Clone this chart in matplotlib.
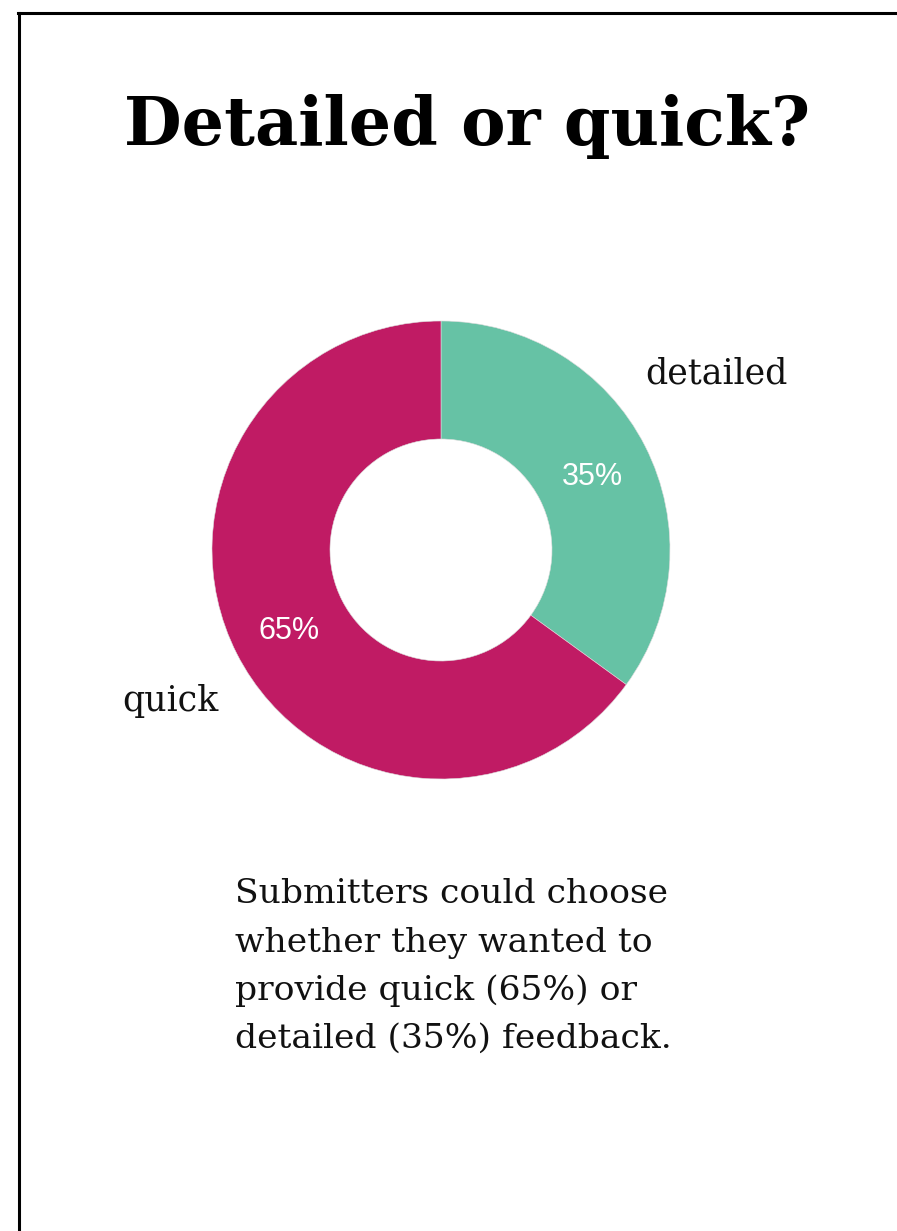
import matplotlib
matplotlib.use("Agg")
import matplotlib.pyplot as plt
from matplotlib.lines import Line2D
import numpy as np

# Data
categories = ["detailed", "quick"]
shares = [35, 65]
pct_labels = ["35%", "65%"]
colors = ["#66c2a5", "#c01b64"]

title = "Detailed or quick?"
caption = ["Submitters could choose",
           "whether they wanted to",
           "provide quick (65%) or",
           "detailed (35%) feedback."]

W, H = 897, 1231
fig = plt.figure(figsize=(W / 100, H / 100), dpi=100)
fig.patch.set_facecolor("white")
ax = fig.add_axes([0, 0, 1, 1])

cx, cy = 441, H - 550
R = 229
ring = 118

wedges, _ = ax.pie(shares, colors=colors, startangle=90, counterclock=False,
                   center=(cx, cy), radius=R,
                   wedgeprops=dict(width=ring, edgecolor="#dddddd", linewidth=0.4))
ax.set_xlim(0, W)
ax.set_ylim(0, H)
ax.set_aspect("equal")
ax.axis("off")

# percent labels at ring middle
for w, lab in zip(wedges, pct_labels):
    ang = np.deg2rad((w.theta1 + w.theta2) / 2)
    rr = R - ring / 2
    ax.text(cx + rr * np.cos(ang), cy + rr * np.sin(ang) - 4, lab,
            ha="center", va="center", color="white", fontsize=22,
            family="Liberation Sans")

# outer category labels
ax.text(645, H - 384, categories[0], ha="left", va="baseline",
        fontsize=25, family="DejaVu Serif", color="#111111")
ax.text(218, H - 711, categories[1], ha="right", va="baseline",
        fontsize=25, family="DejaVu Serif", color="#111111")

# title
ax.text(W / 2 + 19, H - 145, title, ha="center", va="baseline",
        fontsize=48, fontweight="heavy", family="DejaVu Serif", color="black")

# caption
baselines = [903, 952, 1000, 1048]
for line, b in zip(caption, baselines):
    ax.text(235, H - b, line, ha="left", va="baseline",
            fontsize=24.8, family="DejaVu Serif", color="#111111")

# frame border (left and top)
fig.add_artist(Line2D([19 / W, 19 / W], [0, 1 - 13 / H], color="black",
                      linewidth=2.2, transform=fig.transFigure))
fig.add_artist(Line2D([18 / W, 1], [1 - 13 / H, 1 - 13 / H], color="black",
                      linewidth=2.2, transform=fig.transFigure))

fig.savefig("out.png", dpi=100)
